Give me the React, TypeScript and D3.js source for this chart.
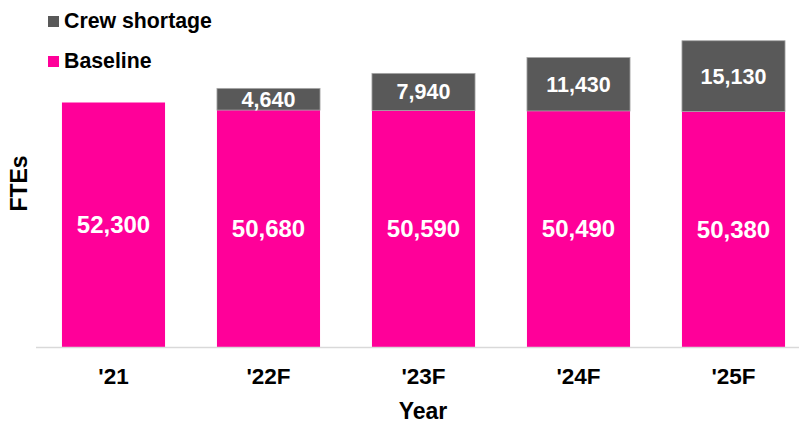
import React from "react";
import * as d3 from "d3";

const years = ["'21", "'22F", "'23F", "'24F", "'25F"];
const baseline = [52300, 50680, 50590, 50490, 50380];
const crewShortage = [0, 4640, 7940, 11430, 15130];
const legendItems = ["Crew shortage", "Baseline"];

const W = 799;
const H = 423;
const PINK = "#ff0099";
const GRAY = "#595959";
const FONT = "Arial, 'Liberation Sans', sans-serif";

export default function App() {
  const x = d3.scaleBand<string>().domain(years).range([36, 811]).paddingInner(0.335).paddingOuter(0.1675);
  const y = d3.scaleLinear().domain([0, 52300]).range([347, 102.5]);
  const fmt = d3.format(",");
  const bw = x.bandwidth();
  const legendColors = [GRAY, PINK];

  return (
    <svg width={W} height={H} style={{ position: "absolute", left: 0, top: 0, fontFamily: FONT }}>
      <rect width={W} height={H} fill="#fff" />
      {legendItems.map((name, i) => (
        <g key={name} transform={`translate(48,${16 + i * 40})`}>
          <rect width={11} height={11} fill={legendColors[i]} />
          <text x={16} y={12} fontSize={21.3} fontWeight="bold" fill="#000">{name}</text>
        </g>
      ))}
      {years.map((yr, i) => {
        const x0 = x(yr)!;
        const yb = y(baseline[i]);
        const yc = y(baseline[i] + crewShortage[i]);
        return (
          <g key={yr}>
            <rect x={x0} y={yb} width={bw} height={y(0) - yb} fill={PINK} />
            <text x={x0 + bw / 2} y={(yb + y(0)) / 2 + 8.5} textAnchor="middle" fontSize={24} fontWeight="bold" fill="#fff">{fmt(baseline[i])}</text>
            {crewShortage[i] > 0 && (
              <>
                <rect x={x0} y={yc} width={bw} height={yb - yc} fill={GRAY} stroke="#a6a6a6" strokeWidth={0.8} />
                <text x={x0 + bw / 2} y={(yc + yb) / 2 + 7.5} textAnchor="middle" fontSize={21.5} fontWeight="bold" fill="#fff">{fmt(crewShortage[i])}</text>
              </>
            )}
            <text x={x0 + bw / 2} y={384} textAnchor="middle" fontSize={22.5} fontWeight="bold" fill="#000">{yr}</text>
          </g>
        );
      })}
      <line x1={36} x2={W} y1={y(0) + 0.5} y2={y(0) + 0.5} stroke="#d9d9d9" strokeWidth={1.5} />
      <text x={423} y={419} textAnchor="middle" fontSize={23} fontWeight="bold" fill="#000">Year</text>
      <text transform="translate(27,183.5) rotate(-90)" textAnchor="middle" fontSize={23} fontWeight="bold" fill="#000">FTEs</text>
    </svg>
  );
}
